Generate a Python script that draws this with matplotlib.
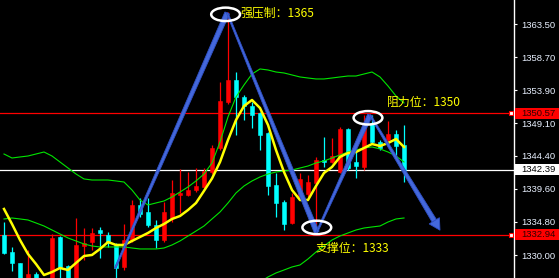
import numpy as np
import matplotlib.pyplot as plt
from matplotlib.patches import Ellipse, Polygon, Rectangle
from matplotlib.transforms import IdentityTransform

# candle data (price), one entry per bar
opens = [1332.91, 1330.44, 1328.85, 1325.70, 1327.25, 1326.00, 1325.80, 1332.62, 1328.41, 1325.80,
         1331.31, 1331.89, 1333.63, 1332.91, 1331.46, 1328.27, 1332.18, 1337.26, 1336.24, 1334.36,
         1332.18, 1335.37, 1338.71, 1338.71, 1339.43, 1339.87, 1342.04, 1345.52, 1352.19, 1355.38,
         1352.91, 1351.61, 1350.60, 1347.70, 1340.16, 1337.69, 1334.65, 1338.30, 1338.80, 1340.45,
         1343.78, 1343.49, 1342.04, 1348.28, 1343.49, 1342.77, 1349.15, 1346.39, 1346.68, 1347.55,
         1345.96]
highs = [1334.79, 1331.17, 1328.90, 1330.73, 1327.54, 1326.40, 1333.05, 1332.70, 1328.50, 1335.37,
         1333.92, 1333.92, 1334.07, 1333.34, 1331.75, 1334.50, 1337.98, 1338.27, 1338.27, 1335.08,
         1337.69, 1340.88, 1342.48, 1342.04, 1342.62, 1342.62, 1345.96, 1355.09, 1365.24, 1356.54,
         1353.20, 1352.19, 1350.70, 1347.84, 1341.90, 1337.98, 1338.99, 1341.90, 1341.61, 1344.22,
         1347.12, 1346.97, 1348.57, 1348.40, 1345.52, 1350.30, 1350.30, 1346.68, 1349.44, 1348.13,
         1348.86]
lows = [1330.15, 1327.69, 1325.60, 1325.20, 1325.50, 1324.50, 1325.20, 1326.10, 1325.30, 1325.30,
        1329.28, 1330.73, 1329.57, 1331.17, 1326.67, 1327.83, 1331.89, 1335.52, 1334.07, 1331.02,
        1331.89, 1334.79, 1336.10, 1338.60, 1339.10, 1339.70, 1341.75, 1345.23, 1351.90, 1347.41,
        1349.58, 1348.42, 1345.23, 1338.71, 1335.52, 1333.63, 1334.50, 1338.13, 1338.40, 1333.20,
        1342.77, 1343.35, 1341.90, 1342.33, 1341.17, 1342.33, 1346.10, 1345.23, 1345.67, 1344.22,
        1340.59]
closes = [1330.30, 1328.85, 1326.10, 1327.25, 1326.10, 1325.00, 1332.47, 1328.27, 1325.80, 1331.46,
          1331.75, 1333.20, 1333.20, 1331.75, 1328.12, 1332.18, 1337.26, 1335.95, 1334.36, 1332.18,
          1336.24, 1338.99, 1338.99, 1339.43, 1340.01, 1342.19, 1345.52, 1352.33, 1355.38, 1352.91,
          1351.61, 1350.30, 1347.41, 1340.01, 1337.55, 1334.50, 1338.42, 1341.00, 1340.59, 1343.78,
          1343.49, 1344.36, 1348.28, 1342.62, 1342.91, 1349.15, 1346.39, 1345.52, 1347.55, 1345.81,
          1342.39]

# yellow moving average
ma_fast = [1336.68, 1334.50, 1332.18, 1330.15, 1328.70, 1327.10, 1327.54, 1328.12, 1327.83, 1328.85,
           1329.86, 1330.01, 1330.88, 1331.89, 1331.46, 1331.46, 1332.04, 1332.62, 1333.20, 1333.92,
           1334.50, 1335.23, 1335.66, 1336.53, 1337.55, 1339.30, 1341.10, 1343.49, 1346.68, 1349.58,
           1351.61, 1352.48, 1351.32, 1348.86, 1345.23, 1342.04, 1339.43, 1337.98, 1337.98, 1340.01,
           1341.90, 1342.77, 1344.22, 1344.80, 1344.94, 1345.52, 1346.10, 1345.81, 1346.24, 1346.82,
           1345.67]

# bollinger bands
bb_upper = [1344.65, 1344.07, 1344.22, 1344.36, 1344.65, 1344.94, 1344.36, 1343.49, 1342.62, 1341.75,
            1341.03, 1340.88, 1340.88, 1340.88, 1340.74, 1340.59, 1339.43, 1337.98, 1337.26, 1337.55,
            1337.84, 1338.42, 1339.14, 1339.87, 1340.74, 1341.75, 1343.35, 1346.39, 1350.02, 1352.92,
            1354.66, 1356.25, 1356.98, 1356.83, 1356.54, 1356.40, 1356.11, 1355.82, 1355.67, 1355.53,
            1355.53, 1355.67, 1355.82, 1355.96, 1355.96, 1356.25, 1356.54, 1355.82, 1354.51, 1353.06,
            1352.05]
bb_mid = [1335.23, 1335.37, 1335.23, 1335.08, 1334.65, 1334.21, 1333.63, 1333.05, 1332.47, 1332.04,
          1331.60, 1331.31, 1331.17, 1331.17, 1331.17, 1331.17, 1331.02, 1330.88, 1330.88, 1330.88,
          1331.02, 1331.46, 1332.04, 1332.76, 1333.48, 1334.21, 1335.23, 1336.24, 1337.55, 1339.00,
          1340.01, 1340.74, 1341.32, 1341.75, 1342.04, 1342.19, 1342.33, 1342.62, 1342.91, 1343.35,
          1343.64, 1344.07, 1344.51, 1344.94, 1345.23, 1345.52, 1345.67, 1345.38, 1344.94, 1344.36,
          1343.49]
bb_lower = [1325.8, 1326.0, 1326.0, 1325.8, 1325.3, 1324.8, 1324.2, 1323.6, 1323.0, 1322.6,
            1322.2, 1321.8, 1321.5, 1321.4, 1321.5, 1321.8, 1322.5, 1323.5, 1324.0, 1324.2,
            1324.0, 1324.2, 1324.6, 1325.0, 1325.4, 1325.6, 1325.7, 1325.6, 1325.4, 1325.3,
            1325.4, 1325.7, 1326.1, 1326.82, 1327.40, 1327.83, 1328.27, 1328.56, 1329.43, 1330.44,
            1331.31, 1332.18, 1332.76, 1333.20, 1333.63, 1333.92, 1334.07, 1334.21, 1334.79, 1335.23,
            1335.37]

price_ticks = [1363.50, 1358.70, 1353.90, 1349.10, 1344.40, 1339.60, 1334.80, 1330.00]
resistance = 1350.57
support = 1332.94
last_price = 1342.39

# swing path drawn with the blue strokes: (bar index, price)
swing = [(13.9, 1328.1), (27.9, 1365.1), (39.1, 1333.3), (45.75, 1350.3), (54.5, 1333.6)]
notes = [("强压制：1365", 29.5, 1365.1), ("阻力位：1350", 47.9, 1352.2), ("支撑位：1333", 38.9, 1331.0)]
rings = [(27.7, 1364.9), (39.1, 1334.0), (45.5, 1349.9)]

RED = '#FF0000'
CYAN = '#00FFFF'

fig = plt.figure(figsize=(5.59, 2.78), dpi=100, facecolor='black')
ax = fig.add_axes([0, 0, 514 / 559, 1], facecolor='black')
ax.set_xlim(-0.5, 63.75)
ax.set_ylim(1326.67, 1366.98)

idx = np.arange(len(opens))
o = np.array(opens)
c = np.array(closes)
up = c >= o
cols = np.where(up, RED, CYAN)

ax.axhline(resistance, color=RED, lw=0.9, zorder=1)
ax.axhline(support, color=RED, lw=0.9, zorder=1)
ax.axhline(last_price, color='white', lw=0.9, zorder=1)

ax.vlines(idx, lows, highs, colors=cols, lw=0.9, zorder=2)
ax.bar(idx, np.abs(c - o), bottom=np.minimum(o, c), width=0.62, color=cols,
       edgecolor=cols, lw=0.4, zorder=3)

ax.plot(idx, bb_upper, color='#00E600', lw=0.8, zorder=4)
ax.plot(idx, bb_mid, color='#00E600', lw=0.8, zorder=4)
ax.plot(idx, bb_lower, color='#00E600', lw=0.8, zorder=4)
ax.plot(idx, ma_fast, color='#FFFF00', lw=1.8, zorder=5)

# right price scale
ax.yaxis.tick_right()
ax.set_yticks(price_ticks)
ax.set_yticklabels([f"{v:.2f}" for v in price_ticks])
ax.tick_params(axis='y', colors='white', labelcolor='#E8F0FF', length=2.5, width=0.8,
               pad=2.5, labelsize=6.8)
for lab in ax.get_yticklabels():
    lab.set_fontfamily('Liberation Sans')
ax.set_xticks([])
for side in ('left', 'top', 'bottom'):
    ax.spines[side].set_visible(False)
ax.spines['right'].set_color('white')
ax.spines['right'].set_linewidth(1)

ytr = ax.get_yaxis_transform()
for val, fc, tc in [(resistance, RED, '#300000'), (last_price, 'white', 'black'), (support, RED, '#300000')]:
    ax.add_patch(Rectangle((1.002, val - 0.8), 45 / 514, 1.6, transform=ytr, fc=fc, ec='none',
                           clip_on=False, zorder=10))
    ax.text(1.015, val, f"{val:.2f}", transform=ytr, ha='left', va='center', color=tc,
            fontsize=6.8, family='Liberation Sans', clip_on=False, zorder=11)
for val in (resistance, support):
    ax.plot([0.994], [val], marker='s', ms=3.2, mfc='white', mec=RED, mew=0.8,
            transform=ytr, clip_on=False, zorder=9)


def stroke(p0, p1, w0, w1, head=False):
    a = ax.transData.transform(p0)
    b = ax.transData.transform(p1)
    d = b - a
    u = d / np.hypot(*d)
    nv = np.array([-u[1], u[0]])
    end = b - u * 11 if head else b
    pts = [a + nv * w0 / 2, end + nv * w1 / 2, end - nv * w1 / 2, a - nv * w0 / 2]
    ax.add_patch(Polygon(pts, closed=True, transform=IdentityTransform(), fc='#4468DC',
                         ec='#2E4FC4', lw=0.6, zorder=7))
    if head:
        tri = [b, end + nv * 6, end - nv * 6]
        ax.add_patch(Polygon(tri, closed=True, transform=IdentityTransform(), fc='#4468DC',
                             ec='#2E4FC4', lw=0.6, zorder=7))


fig.canvas.draw()
for k in range(len(swing) - 1):
    stroke(swing[k], swing[k + 1], 1.5, 5.0, head=(k == len(swing) - 2))

for x, y in rings:
    ax.add_patch(Ellipse((x, y), 3.6, 1.95, fill=False, ec='white', lw=1.8, zorder=8))

for txt, x, y in notes:
    ax.text(x, y, txt, color='#FFFF00', fontsize=8.6, ha='left', va='center',
            family=['Noto Sans CJK SC', 'DejaVu Sans'], zorder=9)

fig.savefig('out.png', dpi=100, facecolor='black')
